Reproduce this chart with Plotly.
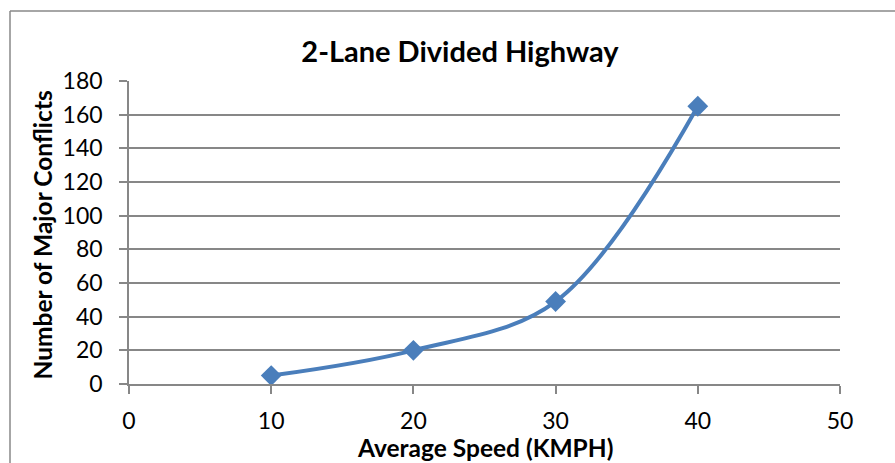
import plotly.graph_objects as go

speed = [10, 20, 30, 40]
conflicts = [5, 20, 49, 165]
x_ticks = [0, 10, 20, 30, 40, 50]
y_ticks = [0, 20, 40, 60, 80, 100, 120, 140, 160, 180]

title_text = "2-Lane Divided Highway"
x_title = "Average Speed (KMPH)"
y_title = "Number of Major Conflicts"

FONT = "Lato, 'Open Sans', sans-serif"
W, H = 895, 463
L, R, T, B = 129, 55, 81, 79
pw, ph = W - L - R, H - T - B

fig = go.Figure()
fig.add_trace(go.Scatter(
    x=speed, y=conflicts, mode="lines+markers",
    line=dict(color="#4A7EBB", width=4, shape="spline", smoothing=1.0),
    marker=dict(symbol="diamond", size=16, color="#4A7EBB"),
    showlegend=False, hoverinfo="x+y",
))

grid = "#878787"
fig.update_layout(
    width=W, height=H,
    margin=dict(l=L, r=R, t=T, b=B, pad=0),
    paper_bgcolor="white", plot_bgcolor="white",
    font=dict(family=FONT, color="black"),
    title=dict(text="<b>" + title_text + "</b>", x=460 / W, xref="container", xanchor="center",
               y=1 - 52 / H, yref="container", yanchor="middle",
               font=dict(size=29, family=FONT, color="black")),
    xaxis=dict(range=[0, 50], tickvals=x_ticks, ticks="outside", ticklen=8, tickcolor=grid,
               tickwidth=1.5, showgrid=False, zeroline=False, showline=True, linecolor=grid,
               linewidth=1.5, tickfont=dict(size=23, family=FONT), ticklabelstandoff=8),
    yaxis=dict(range=[0, 180], tickvals=y_ticks, ticks="outside", ticklen=8, tickcolor=grid,
               tickwidth=1.5, showgrid=True, gridcolor=grid, gridwidth=1.5, zeroline=False,
               showline=True, linecolor=grid, linewidth=1.5,
               tickfont=dict(size=23, family=FONT), ticklabelstandoff=12),
    annotations=[
        dict(text="<b>" + x_title + "</b>", xref="paper", yref="paper", x=0.5,
             y=-(448 - 384) / ph, xanchor="center", yanchor="middle", showarrow=False,
             font=dict(size=24.5, family=FONT, color="black")),
        dict(text="<b>" + y_title + "</b>", xref="paper", yref="paper", x=(42 - L) / pw,
             y=0.5 - (235.5 - 232.5) / ph, xanchor="center", yanchor="middle", showarrow=False,
             textangle=-90, font=dict(size=24.5, family=FONT, color="black")),
    ],
    shapes=[
        dict(type="line", xref="paper", yref="paper", x0=(10 - L) / pw, x1=(10 - L) / pw,
             y0=(384 - 11) / ph, y1=-(470 - 384) / ph, line=dict(color="#888888", width=1.5)),
        dict(type="line", xref="paper", yref="paper", x0=(10 - L) / pw, x1=(900 - L) / pw,
             y0=(384 - 11) / ph, y1=(384 - 11) / ph, line=dict(color="#888888", width=1.5)),
    ],
)

fig.write_html("out.html")
